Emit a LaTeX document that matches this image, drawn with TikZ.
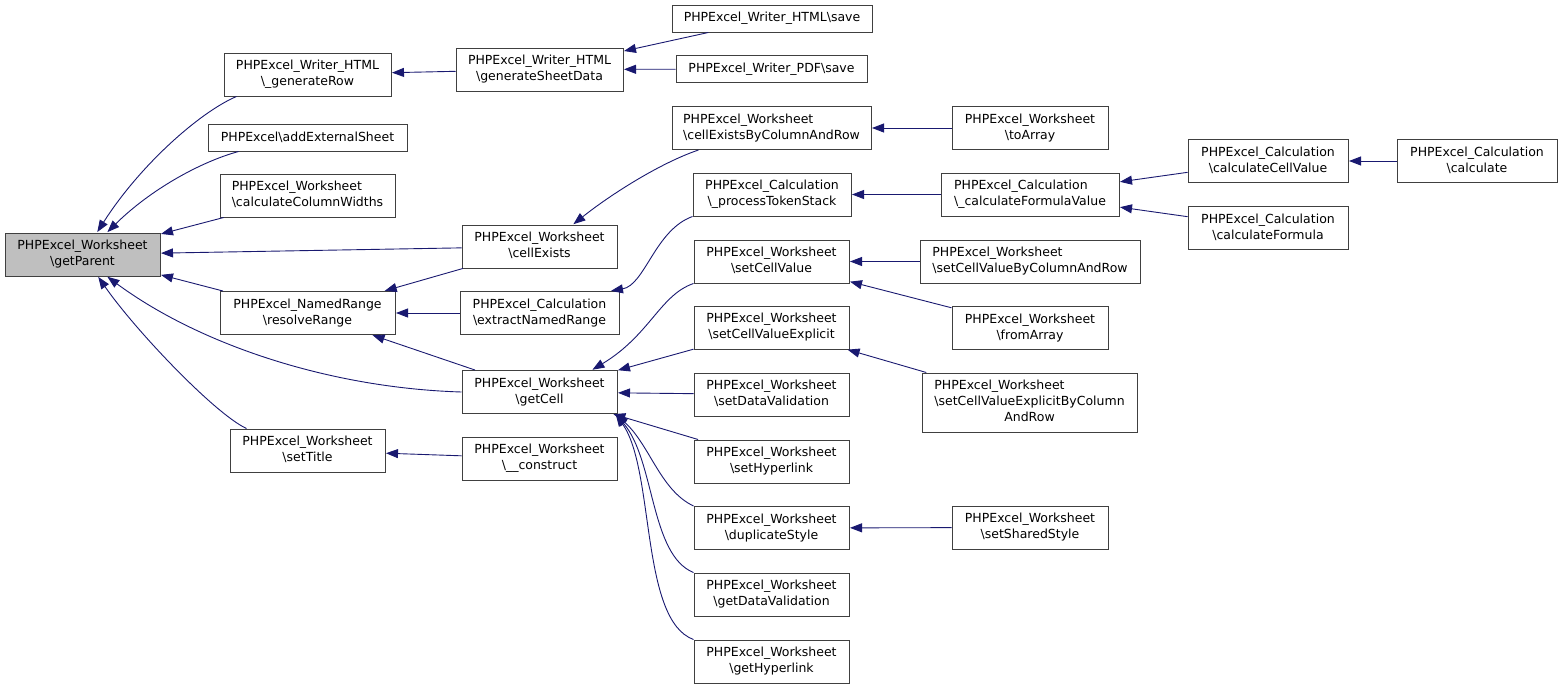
\documentclass[tikz,border=0pt]{standalone}
\usepackage{fontspec}
\setmainfont{DejaVu Sans}
\usetikzlibrary{arrows.meta}
\newcommand\bs{\textbackslash}
\newcommand\twoln[2]{\begin{tabular}{@{}l@{}}#1\\\multicolumn{1}{@{}c@{}}{#2}\end{tabular}}
\newcommand\threeln[3]{\begin{tabular}{@{}l@{}}#1\\#2\\\multicolumn{1}{@{}c@{}}{#3}\end{tabular}}
\definecolor{edgeblue}{HTML}{191970}
\definecolor{boxline}{HTML}{404040}
\definecolor{focusfill}{HTML}{BFBFBF}
\begin{document}
\begin{tikzpicture}[x=1pt,y=-1pt,
  fn/.style={draw=boxline,line width=1pt,fill=white,inner sep=0pt,minimum height=43pt,
    font=\fontsize{12.5}{16}\selectfont,text=black},
  call/.style={draw=edgeblue,line width=0.9pt,-{Triangle[length=12pt,width=9pt]},shorten >=0.5pt},
]
\useasboundingbox (0,0) rectangle (1560,688);
% column 0
\node[fn,fill=focusfill,minimum width=155pt] (gp) at (82.5,254.5) {\twoln{PHPExcel\_Worksheet}{\bs getParent}};
% column 1
\node[fn,minimum width=167pt] (gr) at (307.5,74.5) {\twoln{PHPExcel\_Writer\_HTML}{\bs\_generateRow}};
\node[fn,minimum width=199pt,minimum height=27pt] (aes) at (307.5,137.5) {PHPExcel\bs addExternalSheet};
\node[fn,minimum width=175pt] (ccw) at (307.5,195.5) {\twoln{PHPExcel\_Worksheet}{\bs calculateColumnWidths}};
\node[fn,minimum width=175pt] (rr) at (307.5,313) {\twoln{PHPExcel\_NamedRange}{\bs resolveRange}};
\node[fn,minimum width=155pt] (st) at (307.5,450.5) {\twoln{PHPExcel\_Worksheet}{\bs setTitle}};
% column 2
\node[fn,minimum width=167pt] (gsd) at (539.5,69.5) {\twoln{PHPExcel\_Writer\_HTML}{\bs generateSheetData}};
\node[fn,minimum width=155pt] (ce) at (539.5,246.5) {\twoln{PHPExcel\_Worksheet}{\bs cellExists}};
\node[fn,minimum width=159pt] (enr) at (539.5,313) {\twoln{PHPExcel\_Calculation}{\bs extractNamedRange}};
\node[fn,minimum width=155pt] (gc) at (539.5,392) {\twoln{PHPExcel\_Worksheet}{\bs getCell}};
\node[fn,minimum width=155pt] (con) at (539.5,458.5) {\twoln{PHPExcel\_Worksheet}{\bs\_\_construct}};
% column 3
\node[fn,minimum width=200pt,minimum height=27pt] (hs) at (772,18.5) {PHPExcel\_Writer\_HTML\bs save};
\node[fn,minimum width=191pt,minimum height=27pt] (ps) at (771.5,69) {PHPExcel\_Writer\_PDF\bs save};
\node[fn,minimum width=199pt] (cebcr) at (771.5,128) {\twoln{PHPExcel\_Worksheet}{\bs cellExistsByColumnAndRow}};
\node[fn,minimum width=158pt] (pts) at (772,194.5) {\twoln{PHPExcel\_Calculation}{\bs\_processTokenStack}};
\node[fn,minimum width=155pt] (scv) at (771.5,261.5) {\twoln{PHPExcel\_Worksheet}{\bs setCellValue}};
\node[fn,minimum width=155pt] (scve) at (771.5,327.5) {\twoln{PHPExcel\_Worksheet}{\bs setCellValueExplicit}};
\node[fn,minimum width=155pt] (sdv) at (771.5,394.5) {\twoln{PHPExcel\_Worksheet}{\bs setDataValidation}};
\node[fn,minimum width=155pt] (sh) at (771.5,461.5) {\twoln{PHPExcel\_Worksheet}{\bs setHyperlink}};
\node[fn,minimum width=155pt] (ds) at (771.5,528) {\twoln{PHPExcel\_Worksheet}{\bs duplicateStyle}};
\node[fn,minimum width=155pt] (gdv) at (771.5,594.5) {\twoln{PHPExcel\_Worksheet}{\bs getDataValidation}};
\node[fn,minimum width=155pt] (gh) at (771.5,661.5) {\twoln{PHPExcel\_Worksheet}{\bs getHyperlink}};
% column 4
\node[fn,minimum width=156pt] (ta) at (1030,128) {\twoln{PHPExcel\_Worksheet}{\bs toArray}};
\node[fn,minimum width=178pt] (cfv) at (1030,194.5) {\twoln{PHPExcel\_Calculation}{\bs\_calculateFormulaValue}};
\node[fn,minimum width=220pt] (scvb) at (1030,261.5) {\twoln{PHPExcel\_Worksheet}{\bs setCellValueByColumnAndRow}};
\node[fn,minimum width=156pt] (fa) at (1030,328) {\twoln{PHPExcel\_Worksheet}{\bs fromArray}};
\node[fn,minimum width=215pt,minimum height=59pt] (scvebc) at (1029.5,402.5) {\threeln{PHPExcel\_Worksheet}{\bs setCellValueExplicitByColumn}{AndRow}};
\node[fn,minimum width=156pt] (sss) at (1030,527.5) {\twoln{PHPExcel\_Worksheet}{\bs setSharedStyle}};
% column 5/6
\node[fn,minimum width=160pt] (ccv) at (1268,161) {\twoln{PHPExcel\_Calculation}{\bs calculateCellValue}};
\node[fn,minimum width=160pt] (cf) at (1268,228) {\twoln{PHPExcel\_Calculation}{\bs calculateFormula}};
\node[fn,minimum width=160pt] (calc) at (1477,161) {\twoln{PHPExcel\_Calculation}{\bs calculate}};

% edges into getParent
\draw[call] ([xshift=13pt]gr.south west) .. controls (200,112) and (140,165) .. ([xshift=14.5pt]gp.north);
\draw[call] ([xshift=31pt]aes.south west) .. controls (200,162) and (150,190) .. ([xshift=24.5pt]gp.north);
\draw[call] (ccw) -- (gp);
\draw[call] (ce) -- (gp);
\draw[call] (rr) -- (gp);
\draw[call] (gc.west) .. controls (330,388) and (200,345) .. ([xshift=24.5pt]gp.south);
\draw[call] ([xshift=17pt]st.north west) .. controls (215,414) and (135,330) .. ([xshift=15.5pt]gp.south);
% column 1 targets
\draw[call] (gsd) -- (gr);
\draw[call] (ce) -- (rr);
\draw[call] (enr) -- (rr);
\draw[call] (gc) -- (rr);
\draw[call] (con) -- (st);
% column 2 targets
\draw[call] (hs) -- (gsd);
\draw[call] (ps) -- (gsd);
\draw[call] ([xshift=27pt]cebcr.south west) .. controls (660,163) and (610,195) .. ([xshift=33.5pt]ce.north);
\draw[call] (pts.south west) .. controls (655,230) and (645,285) .. ([xshift=-9pt]enr.north east);
\draw[call] (scv.south west) .. controls (660,295) and (650,335) .. ([xshift=52.5pt]gc.north);
\draw[call] (scve) -- (gc);
\draw[call] (sdv) -- (gc);
\draw[call] (sh) -- (gc);
\draw[call] (ds.north west) .. controls (660,490) and (650,445) .. ([xshift=-2pt]gc.south east);
\draw[call] (gdv.north west) .. controls (650,555) and (655,460) .. ([xshift=-2pt]gc.south east);
\draw[call] (gh.north west) .. controls (640,620) and (655,470) .. ([xshift=-2pt]gc.south east);
% column 3 targets
\draw[call] (ta) -- (cebcr);
\draw[call] (cfv) -- (pts);
\draw[call] (scvb) -- (scv);
\draw[call] (fa) -- (scv);
\draw[call] (scvebc) -- (scve);
\draw[call] (sss) -- (ds);
% column 4 targets
\draw[call] (ccv) -- (cfv);
\draw[call] (cf) -- (cfv);
\draw[call] (calc) -- (ccv);
\end{tikzpicture}
\end{document}
